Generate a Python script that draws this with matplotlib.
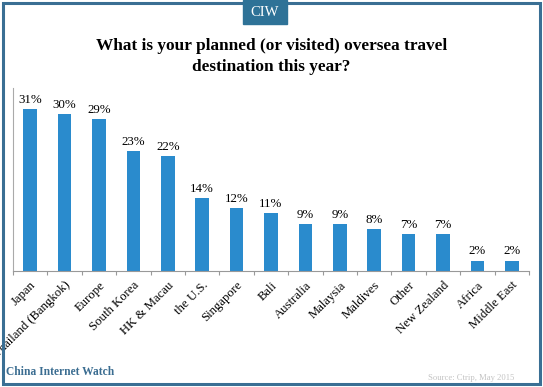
import matplotlib.pyplot as plt
from matplotlib.patches import Rectangle

destinations = ["Japan", "Thailand (Bangkok)", "Europe", "South Korea", "HK & Macau",
                "the U.S.", "Singapore", "Bali", "Australia", "Malaysia", "Maldives",
                "Other", "New Zealand", "Africa", "Middle East"]
share = [31, 30, 29, 23, 22, 14, 12, 11, 9, 9, 8, 7, 7, 2, 2]

plt.rcParams['font.family'] = ['Liberation Serif', 'DejaVu Serif']

fig = plt.figure(figsize=(5.43, 3.87), dpi=100)
ax = fig.add_axes([13 / 543, 116 / 387, 516 / 543, 183 / 387])

x = range(len(destinations))
ax.bar(x, share, width=0.4, color='#2a8bcd')
for i, v in zip(x, share):
    ax.text(i, v + 0.6, f"{v}%", ha='center', va='bottom', fontsize=9.3)

ax.set_xlim(-0.5, len(destinations) - 0.5)
ax.set_ylim(0, 35)
ax.set_yticks([])
ax.set_xticks([i + 0.5 for i in range(-1, len(destinations))], minor=False)
ax.set_xticklabels([])
ax.set_xticks(list(x), minor=True)
ax.set_xticklabels(destinations, minor=True, rotation=45, ha='right',
                   rotation_mode='anchor', fontsize=9.2)
ax.tick_params(axis='x', which='major', length=3, color='#999999')
ax.tick_params(axis='x', which='minor', length=0, pad=6)
for s in ['top', 'right']:
    ax.spines[s].set_visible(False)
ax.spines['left'].set_color('#aaaaaa')
ax.spines['bottom'].set_color('#999999')

fig.text(0.5, 1 - 56.5 / 387, "What is your planned (or visited) oversea travel\ndestination this year?",
         ha='center', va='center', fontsize=12.4, fontweight='bold', linespacing=1.35)

# header badge
fig.patches.append(Rectangle((243 / 543, 1 - 24 / 387), 44 / 543, 24 / 387,
                             transform=fig.transFigure, color='#2e7297', zorder=3))
fig.text(265 / 543, 1 - 13 / 387, "CIW", ha='center', va='center', color='white',
         fontsize=10.5, zorder=4)

# frame
fig.patches.append(Rectangle((3 / 543, 3 / 387), 537 / 543, 381 / 387,
                             transform=fig.transFigure, fill=False,
                             edgecolor='#3a6f94', linewidth=2.2, zorder=2))

fig.text(6 / 543, 1 - 372 / 387, "China Internet Watch", ha='left', va='center',
         fontsize=8.3, fontweight='bold', color='#3b6d91')
fig.text(514 / 543, 1 - 378 / 387, "Source: Ctrip, May 2015", ha='right', va='center',
         fontsize=6.2, color='#c4c4c4')

plt.savefig("out.png", dpi=100)
